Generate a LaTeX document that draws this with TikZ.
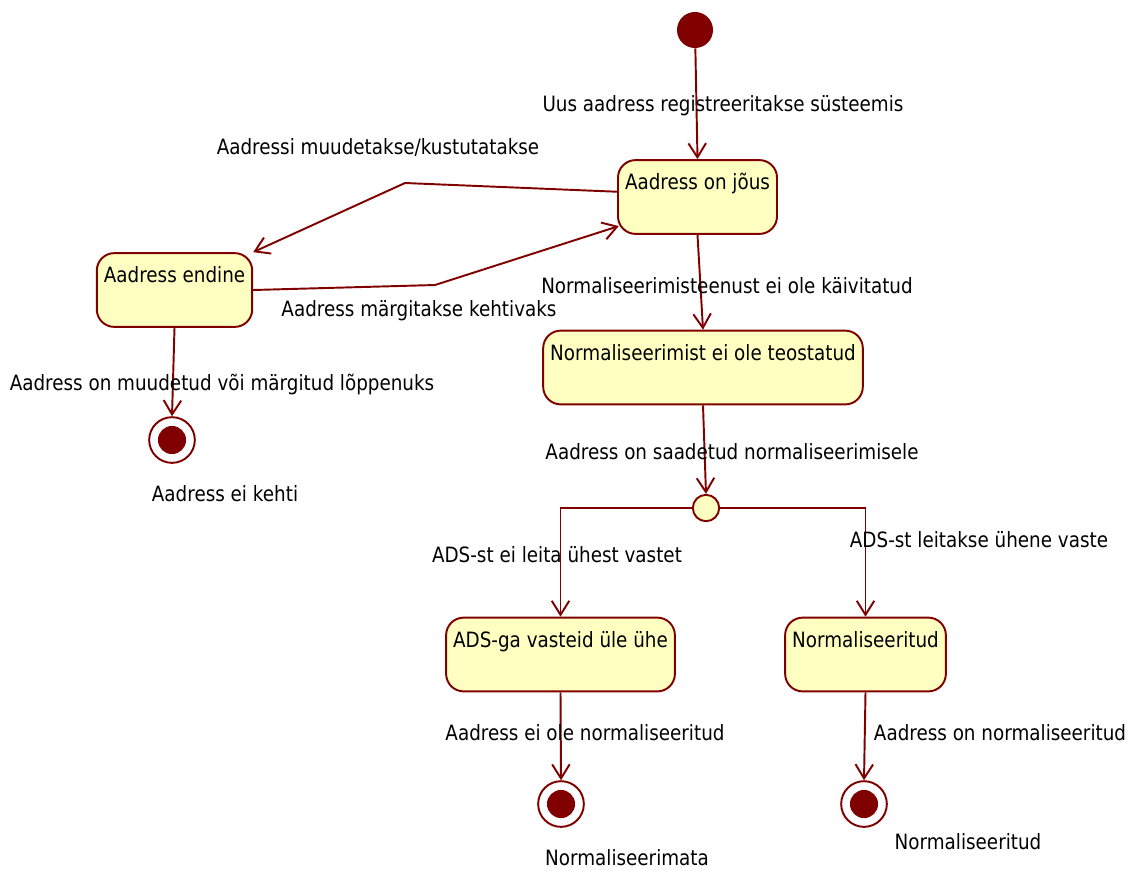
\documentclass[tikz,border=0pt]{standalone}
\usepackage{fontspec}
\setmainfont[FakeStretch=0.87]{DejaVu Sans}
\usetikzlibrary{arrows.meta}
\definecolor{dred}{RGB}{128,0,0}
\definecolor{stfill}{RGB}{255,255,194}
\begin{document}
\begin{tikzpicture}[x=0.02cm,y=-0.02cm,
  every node/.style={font=\fontsize{12}{14}\selectfont},
  tr/.style={draw=dred,line width=1.1pt,-{Straight Barb[length=8pt,width=10pt]}},
  stbox/.style={draw=dred,fill=stfill,line width=1.1pt,rounded corners=10pt,
    inner xsep=4pt,inner ysep=0pt,text height=17pt,text depth=25pt},
  startpt/.style={circle,fill=dred,minimum size=20.5pt,inner sep=0pt},
  endpt/.style={circle,draw=dred,fill=white,line width=1.1pt,minimum size=26pt,inner sep=0pt,
    path picture={\fill[dred] (path picture bounding box.center) circle (8pt);}},
  choice/.style={circle,draw=dred,fill=stfill,line width=1.1pt,minimum size=15pt,inner sep=0pt},
  lbl/.style={inner sep=0pt}]
  \useasboundingbox (0,0) rectangle (1135,870);

  % states
  \node[startpt] (init) at (695,30) {};
  \node[stbox] (jous) at (697.5,197) {Aadress on jõus};
  \node[stbox] (endine) at (174.5,290) {Aadress endine};
  \node[stbox] (eiole) at (703,367.5) {Normaliseerimist ei ole teostatud};
  \node[choice] (junc) at (706,508) {};
  \node[stbox] (mitu) at (560.5,654.5) {ADS-ga vasteid üle ühe};
  \node[stbox] (normd) at (865.5,654.5) {Normaliseeritud};
  \node[endpt] (fin1) at (172,440) {};
  \node[endpt] (fin2) at (561,804) {};
  \node[endpt] (fin3) at (864,804) {};

  % bends
  \coordinate (b1) at (405,183);
  \coordinate (b2) at (435,285);

  % transitions
  \draw[tr] (init) -- (jous.north);
  \draw[tr] ([yshift=3pt]jous.west) -- (b1) -- (endine.north east);
  \draw[tr] (endine.east) -- (b2) -- ([yshift=5pt,xshift=1pt]jous.south west);
  \draw[tr] (endine.south) -- (fin1.north);
  \draw[tr] (jous.south) -- (eiole.north);
  \draw[tr] (eiole.south) -- (junc.north);
  \draw[tr] (junc.west) -| (mitu.north);
  \draw[tr] (junc.east) -| (normd.north);
  \draw[tr] (mitu.south) -- (fin2.north);
  \draw[tr] (normd.south) -- (fin3.north);

  % labels
  \node[lbl] (l1) at (723,106) {Uus aadress registreeritakse süsteemis};
  \node[lbl] (l2) at (378,147) {Aadressi muudetakse/kustutatakse};
  \node[lbl] (l3) at (419,311) {Aadress märgitakse kehtivaks};
  \node[lbl] (l4) at (222,384) {Aadress on muudetud või märgitud lõppenuks};
  \node[lbl] (l5) at (225,494) {Aadress ei kehti};
  \node[lbl] (l6) at (727,286) {Normaliseerimisteenust ei ole käivitatud};
  \node[lbl] (l7) at (732,452) {Aadress on saadetud normaliseerimisele};
  \node[lbl] (l8) at (557,555) {ADS-st ei leita ühest vastet};
  \node[lbl] (l9) at (979,540) {ADS-st leitakse ühene vaste};
  \node[lbl] (l10) at (585,733) {Aadress ei ole normaliseeritud};
  \node[lbl] (l11) at (1000,733) {Aadress on normaliseeritud};
  \node[lbl] (l12) at (627,858) {Normaliseerimata};
  \node[lbl] (l13) at (968,842) {Normaliseeritud};
\end{tikzpicture}
\end{document}
